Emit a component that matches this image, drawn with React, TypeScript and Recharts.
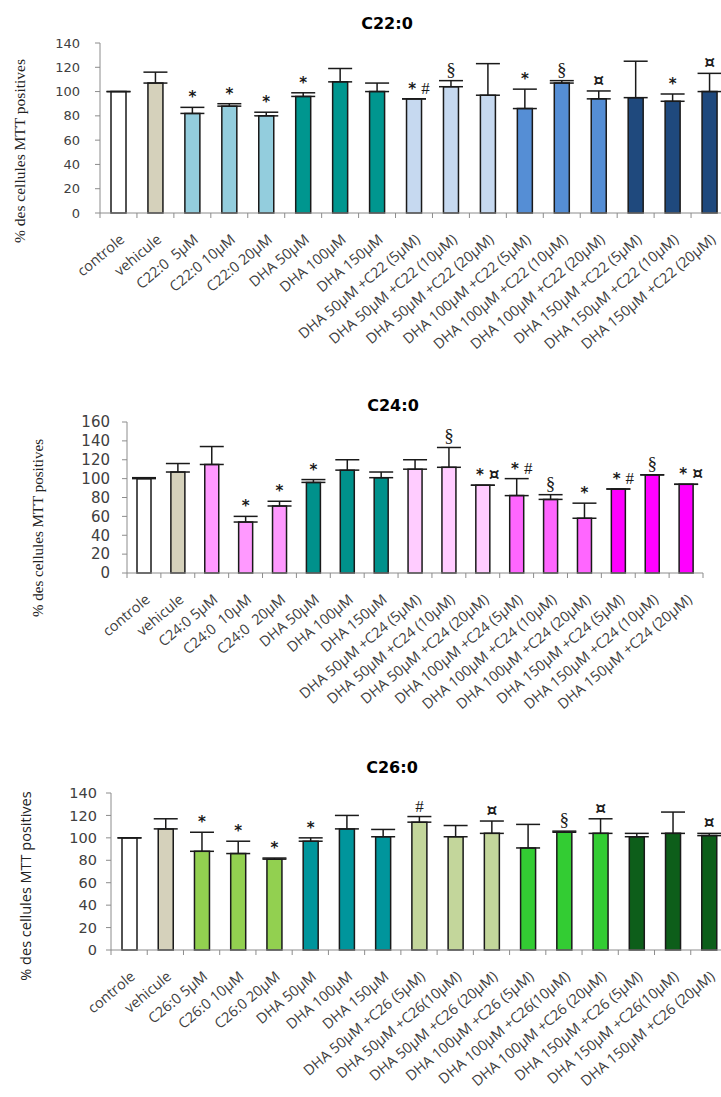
import React from "react";
import { BarChart, Bar, XAxis, YAxis, Cell, ErrorBar, LabelList } from "recharts";

// y axis ticks
const ticks140 = [0, 20, 40, 60, 80, 100, 120, 140];
const ticks160 = [0, 20, 40, 60, 80, 100, 120, 140, 160];

// C22:0 panel
const categoriesC22 = [
  "controle", "vehicule", "C22:0  5µM", "C22:0 10µM", "C22:0 20µM",
  "DHA 50µM", "DHA 100µM", "DHA 150µM",
  "DHA 50µM +C22 (5µM)", "DHA 50µM +C22 (10µM)", "DHA 50µM +C22 (20µM)",
  "DHA 100µM +C22 (5µM)", "DHA 100µM +C22 (10µM)", "DHA 100µM +C22 (20µM)",
  "DHA 150µM +C22 (5µM)", "DHA 150µM +C22 (10µM)", "DHA 150µM +C22 (20µM)",
];
const valuesC22 = [100, 107, 82, 88, 80, 96, 108, 100, 94, 104, 97, 86, 107, 94, 95, 92, 100];
const errorsC22 = [0, 9, 5, 2, 3, 3, 11, 7, 0, 5, 26, 16, 2, 6.5, 30, 6, 15];
const marksC22 = ["", "", "*", "*", "*", "*", "", "", "*#", "§", "", "*", "§", "¤", "", "*", "¤"];
const colorsC22 = [
  "#ffffff", "#d5d1bb", "#93cddd", "#93cddd", "#93cddd",
  "#00968f", "#00968f", "#00968f",
  "#c6d9f0", "#c6d9f0", "#c6d9f0",
  "#558ed5", "#558ed5", "#558ed5",
  "#1f497d", "#1f497d", "#1f497d",
];

// C24:0 panel
const categoriesC24 = [
  "controle", "vehicule", "C24:0 5µM", "C24:0  10µM", "C24:0  20µM",
  "DHA 50µM", "DHA 100µM", "DHA 150µM",
  "DHA 50µM +C24 (5µM)", "DHA 50µM +C24 (10µM)", "DHA 50µM +C24 (20µM)",
  "DHA 100µM +C24 (5µM)", "DHA 100µM +C24 (10µM)", "DHA 100µM +C24 (20µM)",
  "DHA 150µM +C24 (5µM)", "DHA 150µM +C24 (10µM)", "DHA 150µM +C24 (20µM)",
];
const valuesC24 = [100, 107, 115, 54, 71, 96, 109, 101, 110, 112, 93, 82, 78, 58, 89, 104, 94];
const errorsC24 = [1, 9, 19, 6, 5, 3, 11, 6, 10, 21, 0, 18, 5, 16, 0, 0, 0];
const marksC24 = ["", "", "", "*", "*", "*", "", "", "", "§", "*¤", "*#", "§", "*", "*#", "§", "*¤"];
const colorsC24 = [
  "#ffffff", "#d5d1bb", "#ff99ff", "#ff99ff", "#ff99ff",
  "#00918b", "#00918b", "#00918b",
  "#ffccff", "#ffccff", "#ffccff",
  "#ff66ff", "#ff66ff", "#ff66ff",
  "#ff00ff", "#ff00ff", "#ff00ff",
];

// C26:0 panel
const categoriesC26 = [
  "controle", "vehicule", "C26:0 5µM", "C26:0 10µM", "C26:0 20µM",
  "DHA 50µM", "DHA 100µM", "DHA 150µM",
  "DHA 50µM +C26 (5µM)", "DHA 50µM +C26(10µM)", "DHA 50µM +C26 (20µM)",
  "DHA 100µM +C26 (5µM)", "DHA 100µM +C26(10µM)", "DHA 100µM +C26 (20µM)",
  "DHA 150µM +C26 (5µM)", "DHA 150µM +C26(10µM)", "DHA 150µM +C26 (20µM)",
];
const valuesC26 = [100, 108, 88, 86, 81, 97, 108, 101, 114, 101, 104, 91, 105, 104, 101, 104, 102];
const errorsC26 = [0, 9, 17, 11, 1, 3, 12, 6.5, 5, 10, 11, 21, 1, 13, 3, 19, 2];
const marksC26 = ["", "", "*", "*", "*", "*", "", "", "#", "", "¤", "", "§", "¤", "", "", "¤"];
const colorsC26 = [
  "#ffffff", "#d5d1bb", "#92d050", "#92d050", "#92d050",
  "#00959c", "#00959c", "#00959c",
  "#c3d69b", "#c3d69b", "#c3d69b",
  "#33cc33", "#33cc33", "#33cc33",
  "#0d5e1a", "#0d5e1a", "#0d5e1a",
];

const AXIS = "#8c8c8c";
const INK = "#1a1a1a";

// each significance symbol looks a bit different in the original
const markStyle: Record<string, any> = {
  "*": { fontFamily: "DejaVu Sans", fontWeight: "bold", fontSize: 15 },
  "§": { fontFamily: "Liberation Serif", fontSize: 19 },
  "¤": { fontFamily: "DejaVu Serif", fontWeight: "bold", fontSize: 17 },
  "#": { fontFamily: "Liberation Serif", fontSize: 17 },
};

function CategoryTick(props: any) {
  const { x, y, payload, band, count } = props;
  const index = props.index ?? payload.index;
  const left = x - band / 2;
  const tx = x + 7;
  const ty = y + 28;
  return (
    <g>
      <line x1={left} y1={y} x2={left} y2={y + 5} stroke={AXIS} />
      {index === count - 1 && (
        <line x1={x + band / 2} y1={y} x2={x + band / 2} y2={y + 5} stroke={AXIS} />
      )}
      <text
        x={tx}
        y={ty}
        transform={`rotate(-40, ${tx}, ${ty})`}
        textAnchor="end"
        fontSize={14.5}
        fontFamily="Open Sans"
        fill="#404040"
        style={{ whiteSpace: "pre" }}
      >
        {payload.value}
      </text>
    </g>
  );
}

interface PanelProps {
  top: number;
  width: number;
  height: number;
  plotLeft: number;
  plotRight: number;
  plotTop: number;
  plotBottom: number;
  yTicks: number[];
  yFont: number;
  yGap: number;
  barSize: number;
  categories: string[];
  values: number[];
  errors: number[];
  marks: string[];
  colors: string[];
}

function Panel(p: PanelProps) {
  const rows = p.categories.map((name, i) => ({
    name,
    value: p.values[i],
    err: [0, p.errors[i]],
    mark: p.marks[i],
  }));
  const n = p.categories.length;
  const band = (p.plotRight - p.plotLeft) / n;
  const yMax = p.yTicks[p.yTicks.length - 1];

  const renderMark = (props: any) => {
    const { x, y, width, height, value, index } = props;
    if (!value) return null;
    const perUnit = height / p.values[index];
    const top = y - p.errors[index] * perUnit;
    const chars = String(value).split("");
    return (
      <text
        x={x + width / 2 + (chars.length > 1 ? 5 : 0)}
        y={top - 5}
        textAnchor="middle"
        fill={INK}
      >
        {chars.map((c, k) => (
          <tspan key={k} dx={k > 0 ? 5 : 0} {...markStyle[c]}>
            {c}
          </tspan>
        ))}
      </text>
    );
  };

  return (
    <div style={{ position: "absolute", left: 0, top: p.top }}>
      <BarChart
        width={p.width}
        height={p.height}
        data={rows}
        margin={{ top: p.plotTop, right: p.width - p.plotRight, left: 0, bottom: 0 }}
        barCategoryGap={0}
      >
        <XAxis
          dataKey="name"
          interval={0}
          height={p.height - p.plotBottom}
          tickSize={0}
          tickMargin={0}
          tickLine={false}
          axisLine={{ stroke: AXIS }}
          tick={(t: any) => <CategoryTick {...t} band={band} count={n} />}
        />
        <YAxis
          type="number"
          domain={[0, yMax]}
          ticks={p.yTicks}
          interval={0}
          width={p.plotLeft}
          tickSize={5}
          tickMargin={p.yGap}
          axisLine={{ stroke: AXIS }}
          tickLine={{ stroke: AXIS }}
          tick={{ fontSize: p.yFont, fill: "#404040", fontFamily: "DejaVu Sans" }}
        />
        <Bar
          dataKey="value"
          barSize={p.barSize}
          stroke={INK}
          strokeWidth={1.5}
          isAnimationActive={false}
        >
          {rows.map((_, i) => (
            <Cell key={i} fill={p.colors[i]} />
          ))}
          <ErrorBar dataKey="err" direction="y" width={12} stroke={INK} strokeWidth={1.5} />
          <LabelList dataKey="mark" content={renderMark} />
        </Bar>
      </BarChart>
    </div>
  );
}

export default function App() {
  return (
    <div
      style={{
        position: "absolute",
        left: 0,
        top: 0,
        width: 721,
        height: 1097,
        overflow: "hidden",
        background: "#fff",
      }}
    >
      <Panel
        top={0}
        width={740}
        height={375}
        plotLeft={100}
        plotRight={728}
        plotTop={43}
        plotBottom={213}
        yTicks={ticks140}
        yFont={13}
        yGap={15}
        barSize={15}
        categories={categoriesC22}
        values={valuesC22}
        errors={errorsC22}
        marks={marksC22}
        colors={colorsC22}
      />
      <Panel
        top={380}
        width={720}
        height={375}
        plotLeft={127}
        plotRight={703}
        plotTop={42}
        plotBottom={193}
        yTicks={ticks160}
        yFont={15}
        yGap={12}
        barSize={14}
        categories={categoriesC24}
        values={valuesC24}
        errors={errorsC24}
        marks={marksC24}
        colors={colorsC24}
      />
      <Panel
        top={760}
        width={740}
        height={337}
        plotLeft={111}
        plotRight={727}
        plotTop={33}
        plotBottom={190}
        yTicks={ticks140}
        yFont={14.5}
        yGap={9}
        barSize={15}
        categories={categoriesC26}
        values={valuesC26}
        errors={errorsC26}
        marks={marksC26}
        colors={colorsC26}
      />
      <svg
        width={721}
        height={1097}
        style={{ position: "absolute", left: 0, top: 0, pointerEvents: "none" }}
      >
        <g fontFamily="DejaVu Sans" fontWeight="bold" fontSize={16} fill="#000" textAnchor="middle">
          <text x={387} y={29}>C22:0</text>
          <text x={393} y={411}>C24:0</text>
          <text x={392} y={773}>C26:0</text>
        </g>
        <text
          x={19}
          y={151}
          transform="rotate(-90, 19, 151)"
          textAnchor="middle"
          dominantBaseline="central"
          fontFamily="Liberation Serif"
          fontSize={15.5}
          fill="#222"
        >
          % des cellules MTT positives
        </text>
        <text
          x={38}
          y={528}
          transform="rotate(-90, 38, 528)"
          textAnchor="middle"
          dominantBaseline="central"
          fontFamily="Liberation Serif"
          fontSize={15}
          fill="#222"
        >
          % des cellules MTT positives
        </text>
        <text
          x={25}
          y={886}
          transform="rotate(-90, 25, 886)"
          textAnchor="middle"
          dominantBaseline="central"
          fontFamily="Open Sans"
          fontSize={14.5}
          fill="#222"
        >
          % des cellules MTT positives
        </text>
      </svg>
    </div>
  );
}
